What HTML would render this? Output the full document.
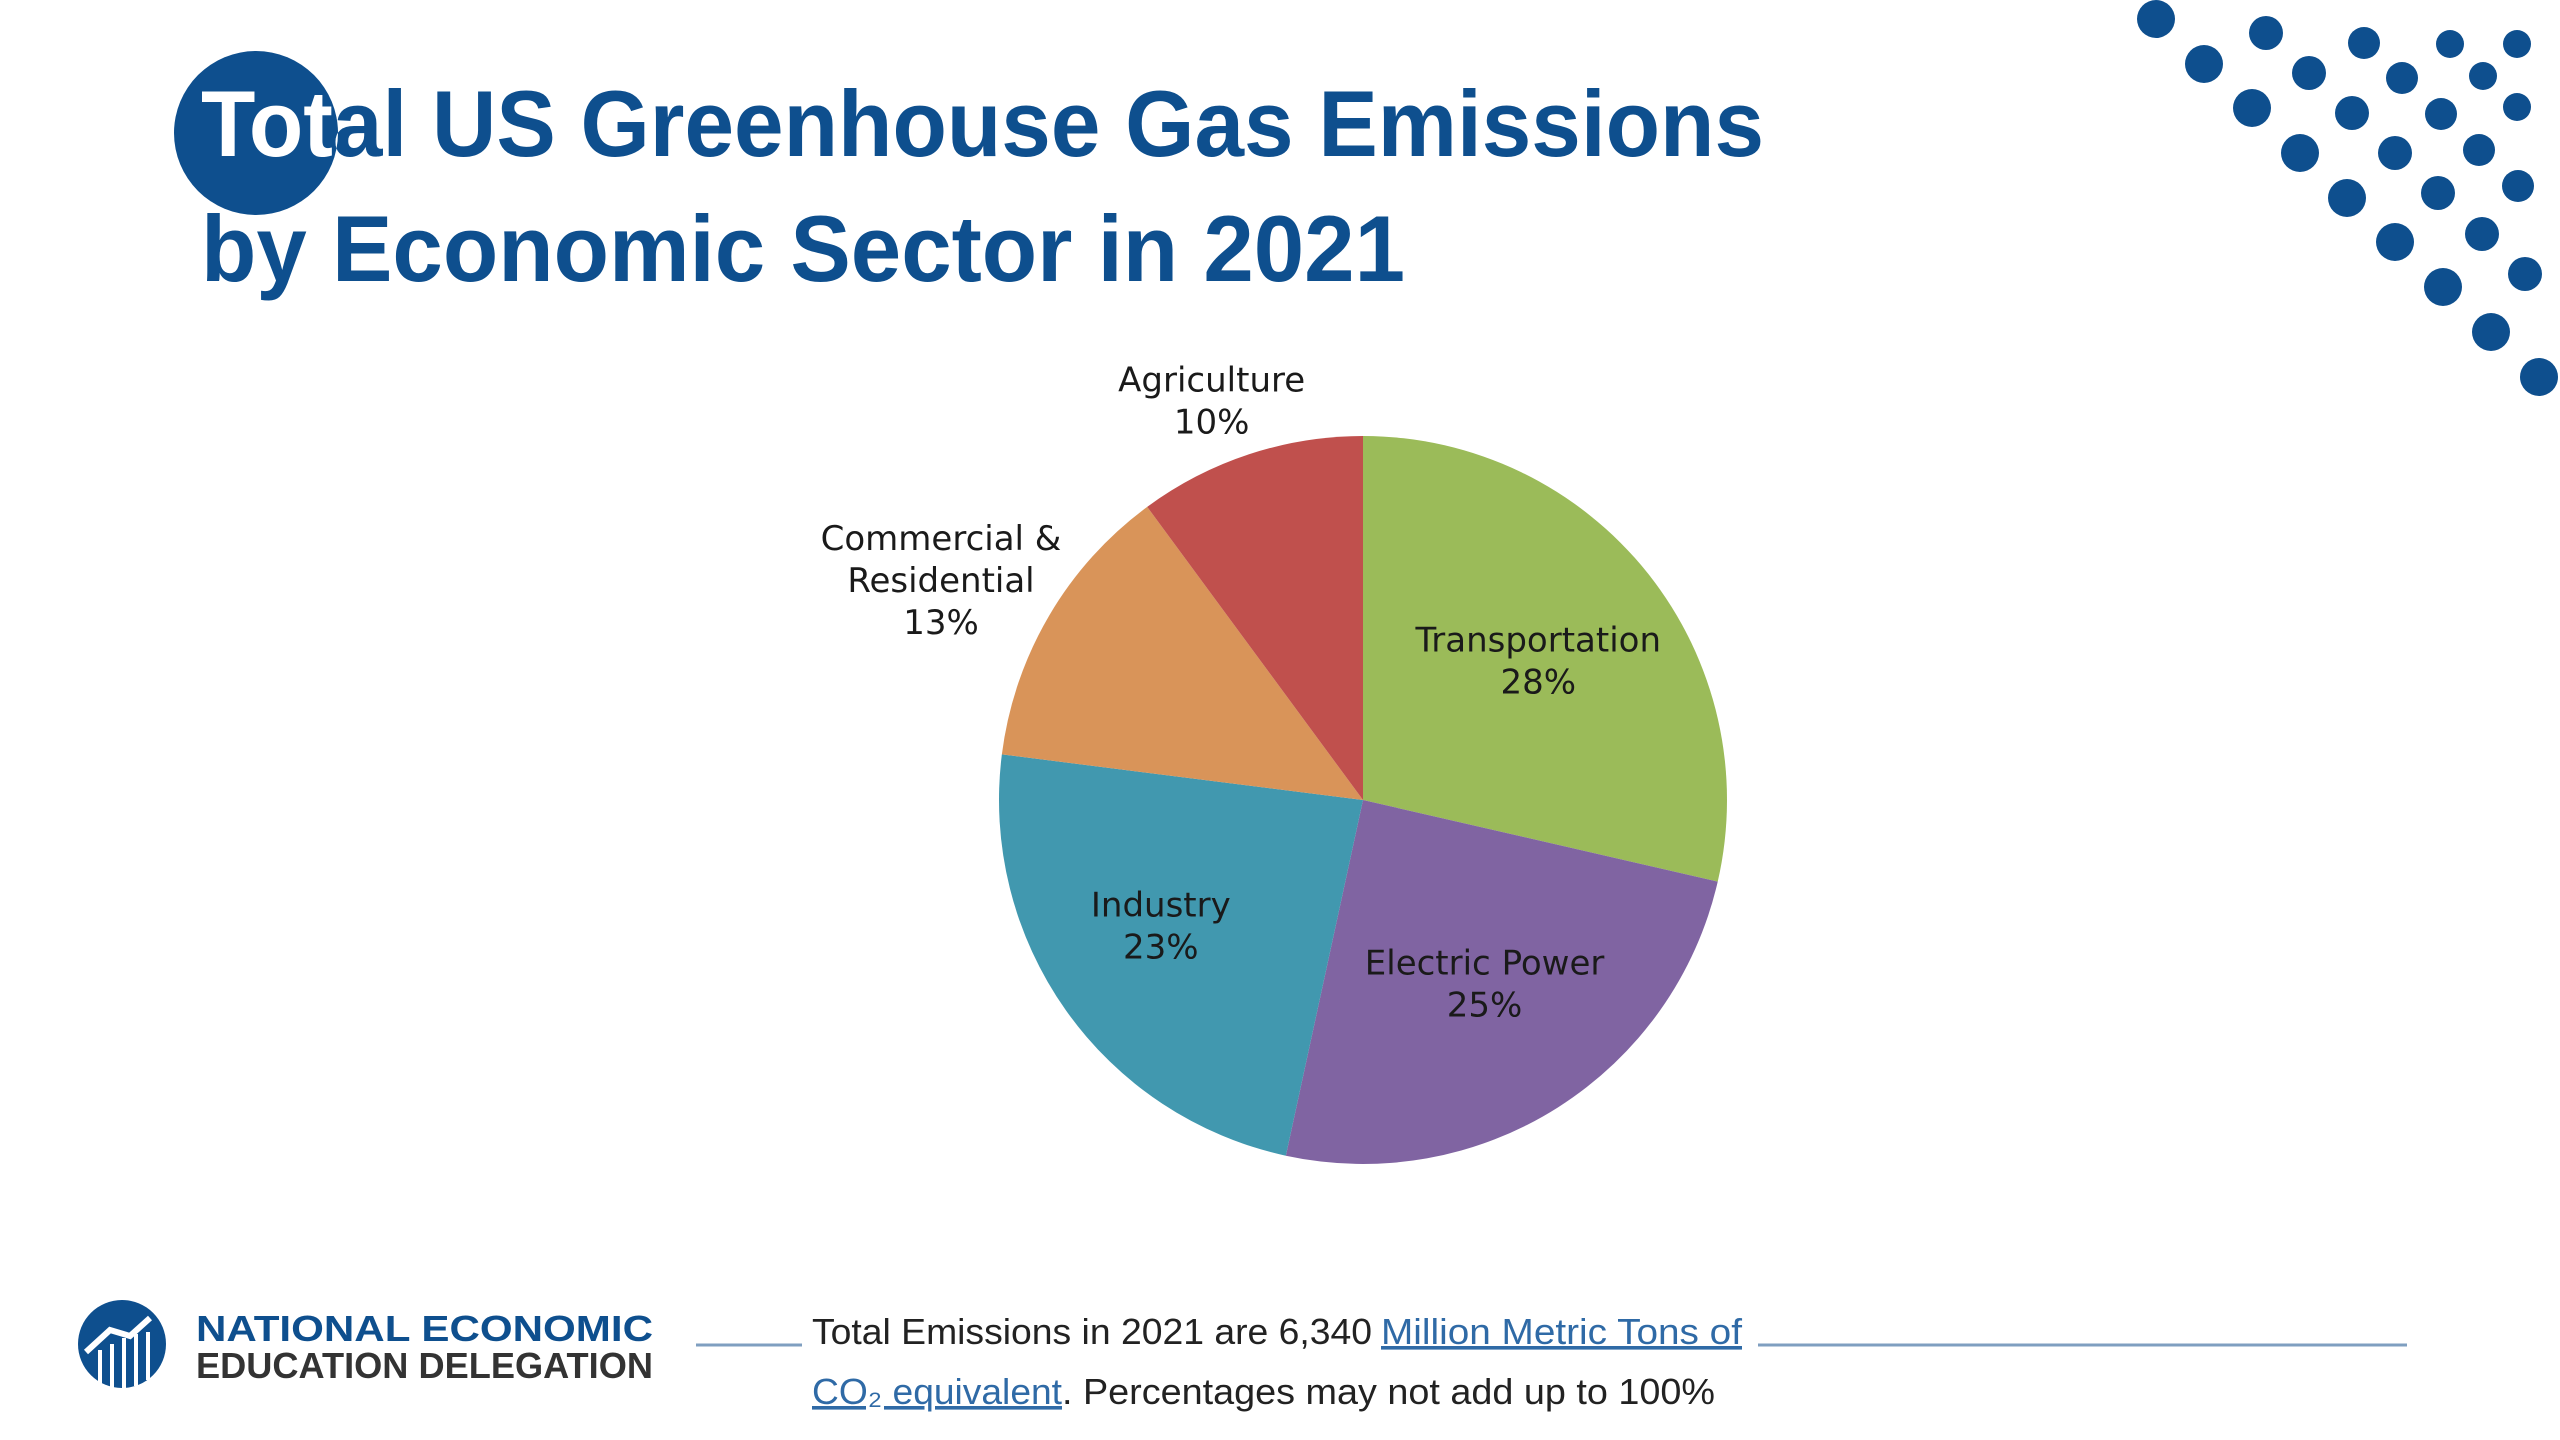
<!DOCTYPE html>
<html><head><meta charset="utf-8"><style>
html,body{margin:0;padding:0;background:#fff;}
svg{display:block;}
</style></head><body>
<svg id="root" width="2560" height="1440" viewBox="0 0 2560 1440" xmlns="http://www.w3.org/2000/svg">
<defs><clipPath id="cc"><circle cx="256" cy="133" r="82"/></clipPath></defs>
<g font-family="'Liberation Sans',sans-serif" font-weight="bold" fill="#0e4f8e">
<circle cx="256" cy="133" r="82" fill="#0e4f8e"/>
<text x="201" y="156" font-size="94" textLength="1563" lengthAdjust="spacingAndGlyphs">Total US Greenhouse Gas Emissions</text>
<text x="201" y="156" font-size="94" textLength="1563" lengthAdjust="spacingAndGlyphs" fill="#fff" clip-path="url(#cc)">Total US Greenhouse Gas Emissions</text>
<text x="201" y="281" font-size="94" textLength="1204" lengthAdjust="spacingAndGlyphs">by Economic Sector in 2021</text>
</g>
<g id="dots" fill="#0e4f8e"></g>
<g id="pie"></g>
<g id="labels" font-family="'DejaVu Sans',sans-serif" font-size="34" fill="#1a1a1a" text-anchor="middle"></g>
<g>
<circle cx="122" cy="1344" r="44" fill="#0e4f8e"/>
<g stroke="#fff" stroke-width="4"><line x1="100" y1="1350" x2="100" y2="1386"/><line x1="112" y1="1344" x2="112" y2="1388"/><line x1="124" y1="1338" x2="124" y2="1388"/><line x1="136" y1="1334" x2="136" y2="1386"/><line x1="148" y1="1332" x2="148" y2="1380"/><polyline points="86,1352 110,1330 130,1336 150,1318" fill="none" stroke-width="6"/></g>
<text x="196" y="1341" font-family="'Liberation Sans',sans-serif" font-weight="bold" font-size="36" fill="#0e4f8e" textLength="457" lengthAdjust="spacingAndGlyphs">NATIONAL ECONOMIC</text>
<text x="196" y="1378" font-family="'Liberation Sans',sans-serif" font-weight="bold" font-size="36" fill="#333" textLength="457" lengthAdjust="spacingAndGlyphs">EDUCATION DELEGATION</text>
</g>
<g font-family="'Liberation Sans',sans-serif" font-size="36">
<line x1="696" y1="1345" x2="802" y2="1345" stroke="#7f9fc0" stroke-width="3"/>
<line x1="1758" y1="1345" x2="2407" y2="1345" stroke="#7f9fc0" stroke-width="3"/>
<text x="812" y="1344" fill="#222" textLength="560" lengthAdjust="spacingAndGlyphs">Total Emissions in 2021 are 6,340</text>
<text x="1381" y="1344" fill="#2f6aa6" textLength="361" lengthAdjust="spacingAndGlyphs" text-decoration="underline">Million Metric Tons of</text>
<text x="812" y="1404" fill="#2f6aa6" textLength="250" lengthAdjust="spacingAndGlyphs" text-decoration="underline">CO₂ equivalent</text>
<text x="1062" y="1404" fill="#222" textLength="653" lengthAdjust="spacingAndGlyphs">. Percentages may not add up to 100%</text>
</g>
</svg>
<script>
const sectors = ["Transportation","Electric Power","Industry","Commercial & Residential","Agriculture"];
const shares = [28.6, 24.8, 23.6, 12.9, 10.1];
const pctLabels = ["28%","25%","23%","13%","10%"];
const colors = ["#9bbb59","#8064a2","#4198af","#d99459","#c0504d"];
const NS="http://www.w3.org/2000/svg";
const cx=1363, cy=800, R=364;
// label placement: distance from centre and angular shift (radians) per slice
const labelDist=[224,220,238,476,427];
const labelShift=[0.0,-0.02,0.06,-0.05,-0.045];
const total=shares.reduce((a,b)=>a+b,0);
function angleOf(v){return v/total*2*Math.PI;}
function pt(a,r){return [cx+r*Math.sin(a), cy-r*Math.cos(a)];}
const pie=document.getElementById('pie');
const lab=document.getElementById('labels');
let acc=0;
shares.forEach((v,i)=>{
  const a0=angleOf(acc), a1=angleOf(acc+v); acc+=v;
  const p0=pt(a0,R), p1=pt(a1,R);
  const large=(a1-a0)>Math.PI?1:0;
  const path=document.createElementNS(NS,'path');
  path.setAttribute('d',`M${cx},${cy} L${p0[0]},${p0[1]} A${R},${R} 0 ${large} 1 ${p1[0]},${p1[1]} Z`);
  path.setAttribute('fill',colors[i]);
  
  
  pie.appendChild(path);
  const mid=(a0+a1)/2+labelShift[i];
  let [lx,ly]=pt(mid,labelDist[i]);
  const lines = sectors[i]==="Commercial & Residential" ? ["Commercial &","Residential"] : [sectors[i]];
  lines.push(pctLabels[i]);
  const lh=42;
  const t=document.createElementNS(NS,'text');
  
  
  lines.forEach((s,k)=>{
    const ts=document.createElementNS(NS,'tspan');
    ts.setAttribute('x',lx);
    ts.setAttribute('y',ly + (k-(lines.length-1)/2)*lh + 12);
    ts.textContent=s;
    t.appendChild(ts);
  });
  lab.appendChild(t);
});
const dotData=[[2156,19,19],[2266,33,17],[2364,43,16],[2450,44,14],[2517,44,14],[2204,64,19],[2309,73,17],[2402,78,16],[2483,76,14],[2252,108,19],[2352,113,17],[2441,114,16],[2517,107,14],[2300,153,19],[2395,153,17],[2479,150,16],[2347,198,19],[2438,193,17],[2518,186,16],[2395,242,19],[2482,234,17],[2443,287,19],[2525,274,17],[2491,332,19],[2539,377,19]];
const dg=document.getElementById('dots');
dotData.forEach(d=>{
  const c=document.createElementNS(NS,'circle');
  c.setAttribute('cx',d[0]);c.setAttribute('cy',d[1]);c.setAttribute('r',d[2]);
  
  
  dg.appendChild(c);
});
</script>
</body></html>
